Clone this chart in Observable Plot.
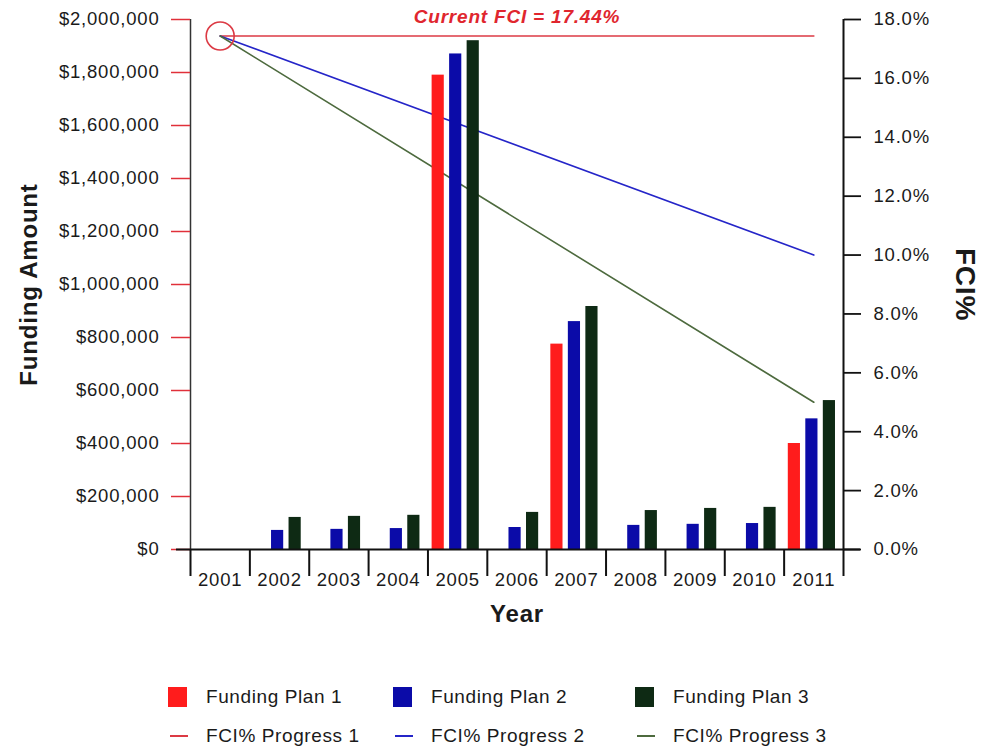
<!DOCTYPE html>
<html>
<head>
<meta charset="utf-8">
<script src="https://cdn.jsdelivr.net/npm/d3@7"></script>
<script src="https://cdn.jsdelivr.net/npm/@observablehq/plot@0.6"></script>
<style>
  body { margin: 0; background: #fff; font-family: "Liberation Sans", Arial, sans-serif; }
  #wrap { position: relative; width: 981px; height: 751px; overflow: hidden; }
  #chart svg text { letter-spacing: 0.8px; }
  .item { position: absolute; font-size: 19px; letter-spacing: 0.6px; color: #1a1a1a; line-height: 22px; white-space: nowrap; }
  .sw { position: absolute; }
</style>
</head>
<body>
<div id="wrap"><div id="chart"></div><div id="legend"></div></div>
<script>
// Fiscal years on the category axis
const years = [2001, 2002, 2003, 2004, 2005, 2006, 2007, 2008, 2009, 2010, 2011];

// Funding per plan and year (USD)
const plan1 = [0, 0, 0, 0, 1790000, 0, 775000, 0, 0, 0, 400000];
const plan2 = [0, 72000, 76000, 79000, 1870000, 83000, 860000, 91000, 95000, 98000, 493000];
const plan3 = [0, 121000, 125000, 129000, 1920000, 140000, 917000, 147000, 155000, 159000, 562000];

// FCI% progress: start value in 2001 and target value in 2011 per plan
const fciYears = [2001, 2011];
const fciStart = 17.44;
const fciEnd = [17.44, 10.0, 5.0];

// Axis ticks
const moneyTicks = [0, 200000, 400000, 600000, 800000, 1000000, 1200000, 1400000, 1600000, 1800000, 2000000];
const pctTicks = [0, 2, 4, 6, 8, 10, 12, 14, 16, 18];

const planNames = ["Funding Plan 1", "Funding Plan 2", "Funding Plan 3"];
const lineNames = ["FCI% Progress 1", "FCI% Progress 2", "FCI% Progress 3"];
const barColors = ["#ff1c1c", "#0b0ba8", "#0e2a14"];
const lineColors = ["#dc3a44", "#2525c8", "#4d6a3e"];

const moneyMax = 2000000, pctMax = 18;
const pctToMoney = p => p / pctMax * moneyMax;

// bar slots inside one year band (fractions of the band)
const slotStart = 0.07, slotStep = 0.295, slotWidth = 0.205;

const bars = [plan1, plan2, plan3].flatMap((vals, k) =>
  years.map((year, i) => ({year, plan: k, value: vals[i]})).filter(d => d.value > 0));

const lines = fciEnd.map((end, k) => [
  {year: fciYears[0], fci: fciStart, k},
  {year: fciYears[1], fci: end, k}
]);

const boundaries = [...years.map(y => y - 0.5), years[years.length - 1] + 0.5];
const xDomain = [boundaries[0], boundaries[boundaries.length - 1]];

const chart = Plot.plot({
  width: 981,
  height: 640,
  marginLeft: 190,
  marginRight: 138,
  marginTop: 19,
  marginBottom: 91,
  style: {fontFamily: "Liberation Sans, Arial, sans-serif", fontSize: "18.5px", color: "#1a1a1a", background: "white", overflow: "visible"},
  x: {type: "linear", domain: xDomain},
  y: {domain: [0, moneyMax]},
  marks: [
    // FCI% progress lines (behind the bars)
    ...lines.map((pts, k) => Plot.line(pts, {
      x: "year", y: d => pctToMoney(d.fci), stroke: lineColors[k], strokeWidth: 1.6
    })),
    // grouped funding bars
    Plot.rectY(bars, {
      x1: d => d.year - 0.5 + slotStart + d.plan * slotStep,
      x2: d => d.year - 0.5 + slotStart + d.plan * slotStep + slotWidth,
      y: "value",
      fill: d => barColors[d.plan]
    }),
    // current FCI marker
    Plot.dot([{year: fciYears[0], fci: fciStart}], {
      x: "year", y: d => pctToMoney(d.fci), r: 14, stroke: lineColors[0], strokeWidth: 1.6, fill: "none"
    }),
    Plot.text([fciStart], {
      x: () => 2006, y: d => pctToMoney(d), dy: -19,
      text: d => `Current FCI = ${d.toFixed(2)}%`,
      fill: "#e0262e", fontWeight: "bold", fontStyle: "italic", fontSize: 19
    }),
    // axis lines
    Plot.ruleX([xDomain[0]], {stroke: "#333", strokeWidth: 1.5}),
    Plot.ruleX([xDomain[1]], {stroke: "#111", strokeWidth: 2}),
    // left money axis with red ticks
    Plot.axisY({
      anchor: "left", ticks: moneyTicks, tickSize: 19, tickPadding: 12,
      tickFormat: d => "$" + d3.format(",")(d),
      stroke: "#e0303a", fill: "#1a1a1a", strokeWidth: 1.5, label: null
    }),
    // right FCI% axis
    Plot.axisY({
      anchor: "right", ticks: pctTicks.map(pctToMoney), tickSize: 17, tickPadding: 13,
      tickFormat: v => (v / moneyMax * pctMax).toFixed(1) + "%",
      stroke: "#111", fill: "#1a1a1a", strokeWidth: 1.8, label: null
    }),
    Plot.ruleY([0], {stroke: "#111", strokeWidth: 2, insetLeft: -14, insetRight: -17}),
    // year separators below the axis
    Plot.axisX({ticks: boundaries, tickSize: 27, tickFormat: () => "", stroke: "#111", strokeWidth: 2, label: null}),
    // year labels
    Plot.axisX({ticks: years, tickSize: 0, tickPadding: 23, tickFormat: d => String(d), label: null}),
    // axis titles
    Plot.text(["Funding Amount"], {frameAnchor: "left", textAnchor: "middle", text: d => d, rotate: -90, dx: -161, fontWeight: "bold", fontSize: 24, fill: "#1a1a1a"}),
    Plot.text(["FCI%"], {frameAnchor: "right", textAnchor: "middle", text: d => d, rotate: 90, dx: 121, fontWeight: "bold", fontSize: 28, fill: "#1a1a1a"}),
    Plot.text(["Year"], {frameAnchor: "bottom", textAnchor: "middle", text: d => d, dy: 72, fontWeight: "bold", fontSize: 24, fill: "#1a1a1a"})
  ]
});
document.getElementById("chart").appendChild(chart);

// legend below the plot
const legend = document.getElementById("legend");
const cols = [168, 393, 635];
planNames.forEach((name, k) => {
  const sw = document.createElement("div");
  sw.className = "sw";
  Object.assign(sw.style, {left: cols[k] + "px", top: "687px", width: "19px", height: "20px", background: barColors[k]});
  legend.appendChild(sw);
  const t = document.createElement("div");
  t.className = "item";
  Object.assign(t.style, {left: (cols[k] + 38) + "px", top: "686px"});
  t.textContent = name;
  legend.appendChild(t);
});
lineNames.forEach((name, k) => {
  const sw = document.createElement("div");
  sw.className = "sw";
  Object.assign(sw.style, {left: (cols[k] + 2) + "px", top: "735px", width: "18px", height: "2px", background: lineColors[k]});
  legend.appendChild(sw);
  const t = document.createElement("div");
  t.className = "item";
  Object.assign(t.style, {left: (cols[k] + 38) + "px", top: "725px"});
  t.textContent = name;
  legend.appendChild(t);
});
</script>
</body>
</html>
